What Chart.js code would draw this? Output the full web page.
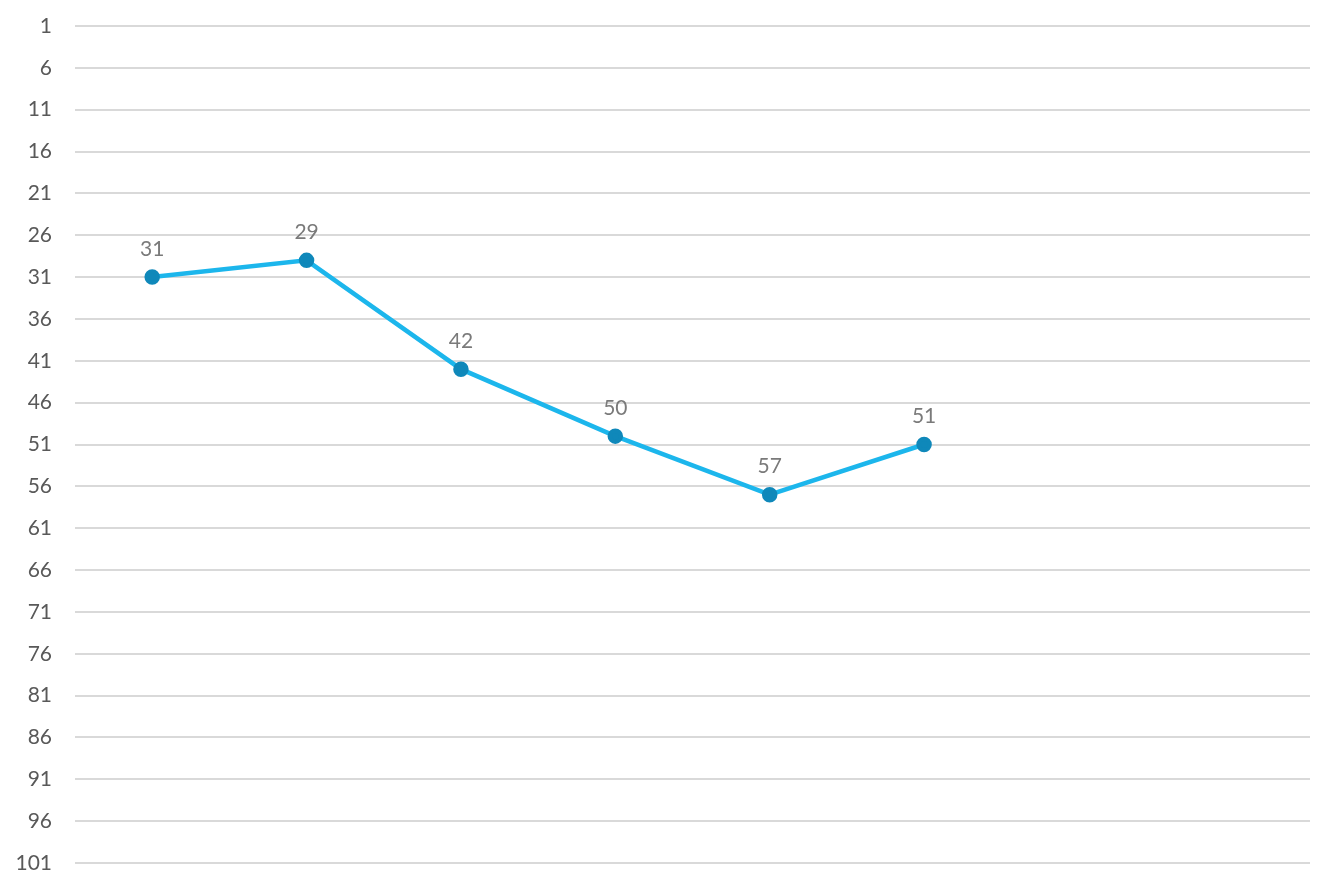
<!DOCTYPE html>
<html>
<head>
<meta charset="utf-8">
<script src="https://cdn.jsdelivr.net/npm/chart.js@4"></script>
<style>
  html, body { margin: 0; padding: 0; background: #fff; }
  #wrap { width: 1334px; height: 889px; }
</style>
</head>
<body>
<div id="wrap"><canvas id="chart"></canvas></div>
<script>
// Chart data
const categories = ['1', '2', '3', '4', '5', '6', '7', '8'];
const values = [31, 29, 42, 50, 57, 51, null, null];
const yTicks = [1, 6, 11, 16, 21, 26, 31, 36, 41, 46, 51, 56, 61, 66, 71, 76, 81, 86, 91, 96, 101];

// Simple value labels above points
const pointLabels = {
  id: 'pointLabels',
  afterDatasetsDraw(chart) {
    const ctx = chart.ctx;
    const meta = chart.getDatasetMeta(0);
    ctx.save();
    ctx.font = '21px Lato, "Open Sans", sans-serif';
    ctx.fillStyle = '#7a7a7a';
    ctx.textAlign = 'center';
    ctx.textBaseline = 'middle';
    meta.data.forEach((pt, i) => {
      if (values[i] == null) return;
      ctx.fillText(String(values[i]), pt.x, pt.y - 28);
    });
    ctx.restore();
  }
};

new Chart(document.getElementById('chart'), {
  type: 'line',
  data: {
    labels: categories,
    datasets: [{
      data: values,
      borderColor: '#1cb6ec',
      borderWidth: 4.5,
      pointBackgroundColor: '#0f88ba',
      pointBorderColor: '#0f88ba',
      pointRadius: 5.5,
      tension: 0,
      spanGaps: false
    }]
  },
  options: {
    responsive: true,
    maintainAspectRatio: false,
    animation: false,
    layout: { padding: { top: 26, bottom: 26, right: 24, left: 0 } },
    plugins: { legend: { display: false }, tooltip: { enabled: false } },
    scales: {
      x: { display: false, offset: true },
      y: {
        reverse: true,
        min: 1,
        max: 101,
        afterFit(scale) {
          scale.width = 75;
          scale.paddingTop = 0;
          scale.paddingBottom = 0;
        },
        afterBuildTicks(scale) { scale.ticks = yTicks.map(v => ({ value: v })); },
        border: { display: false },
        grid: { color: '#d9d9d9', lineWidth: 2, drawTicks: false },
        ticks: {
          color: '#595959',
          padding: 23,
          font: { family: 'Lato, "Open Sans", sans-serif', size: 21 }
        }
      }
    }
  },
  plugins: [pointLabels]
});
</script>
</body>
</html>
